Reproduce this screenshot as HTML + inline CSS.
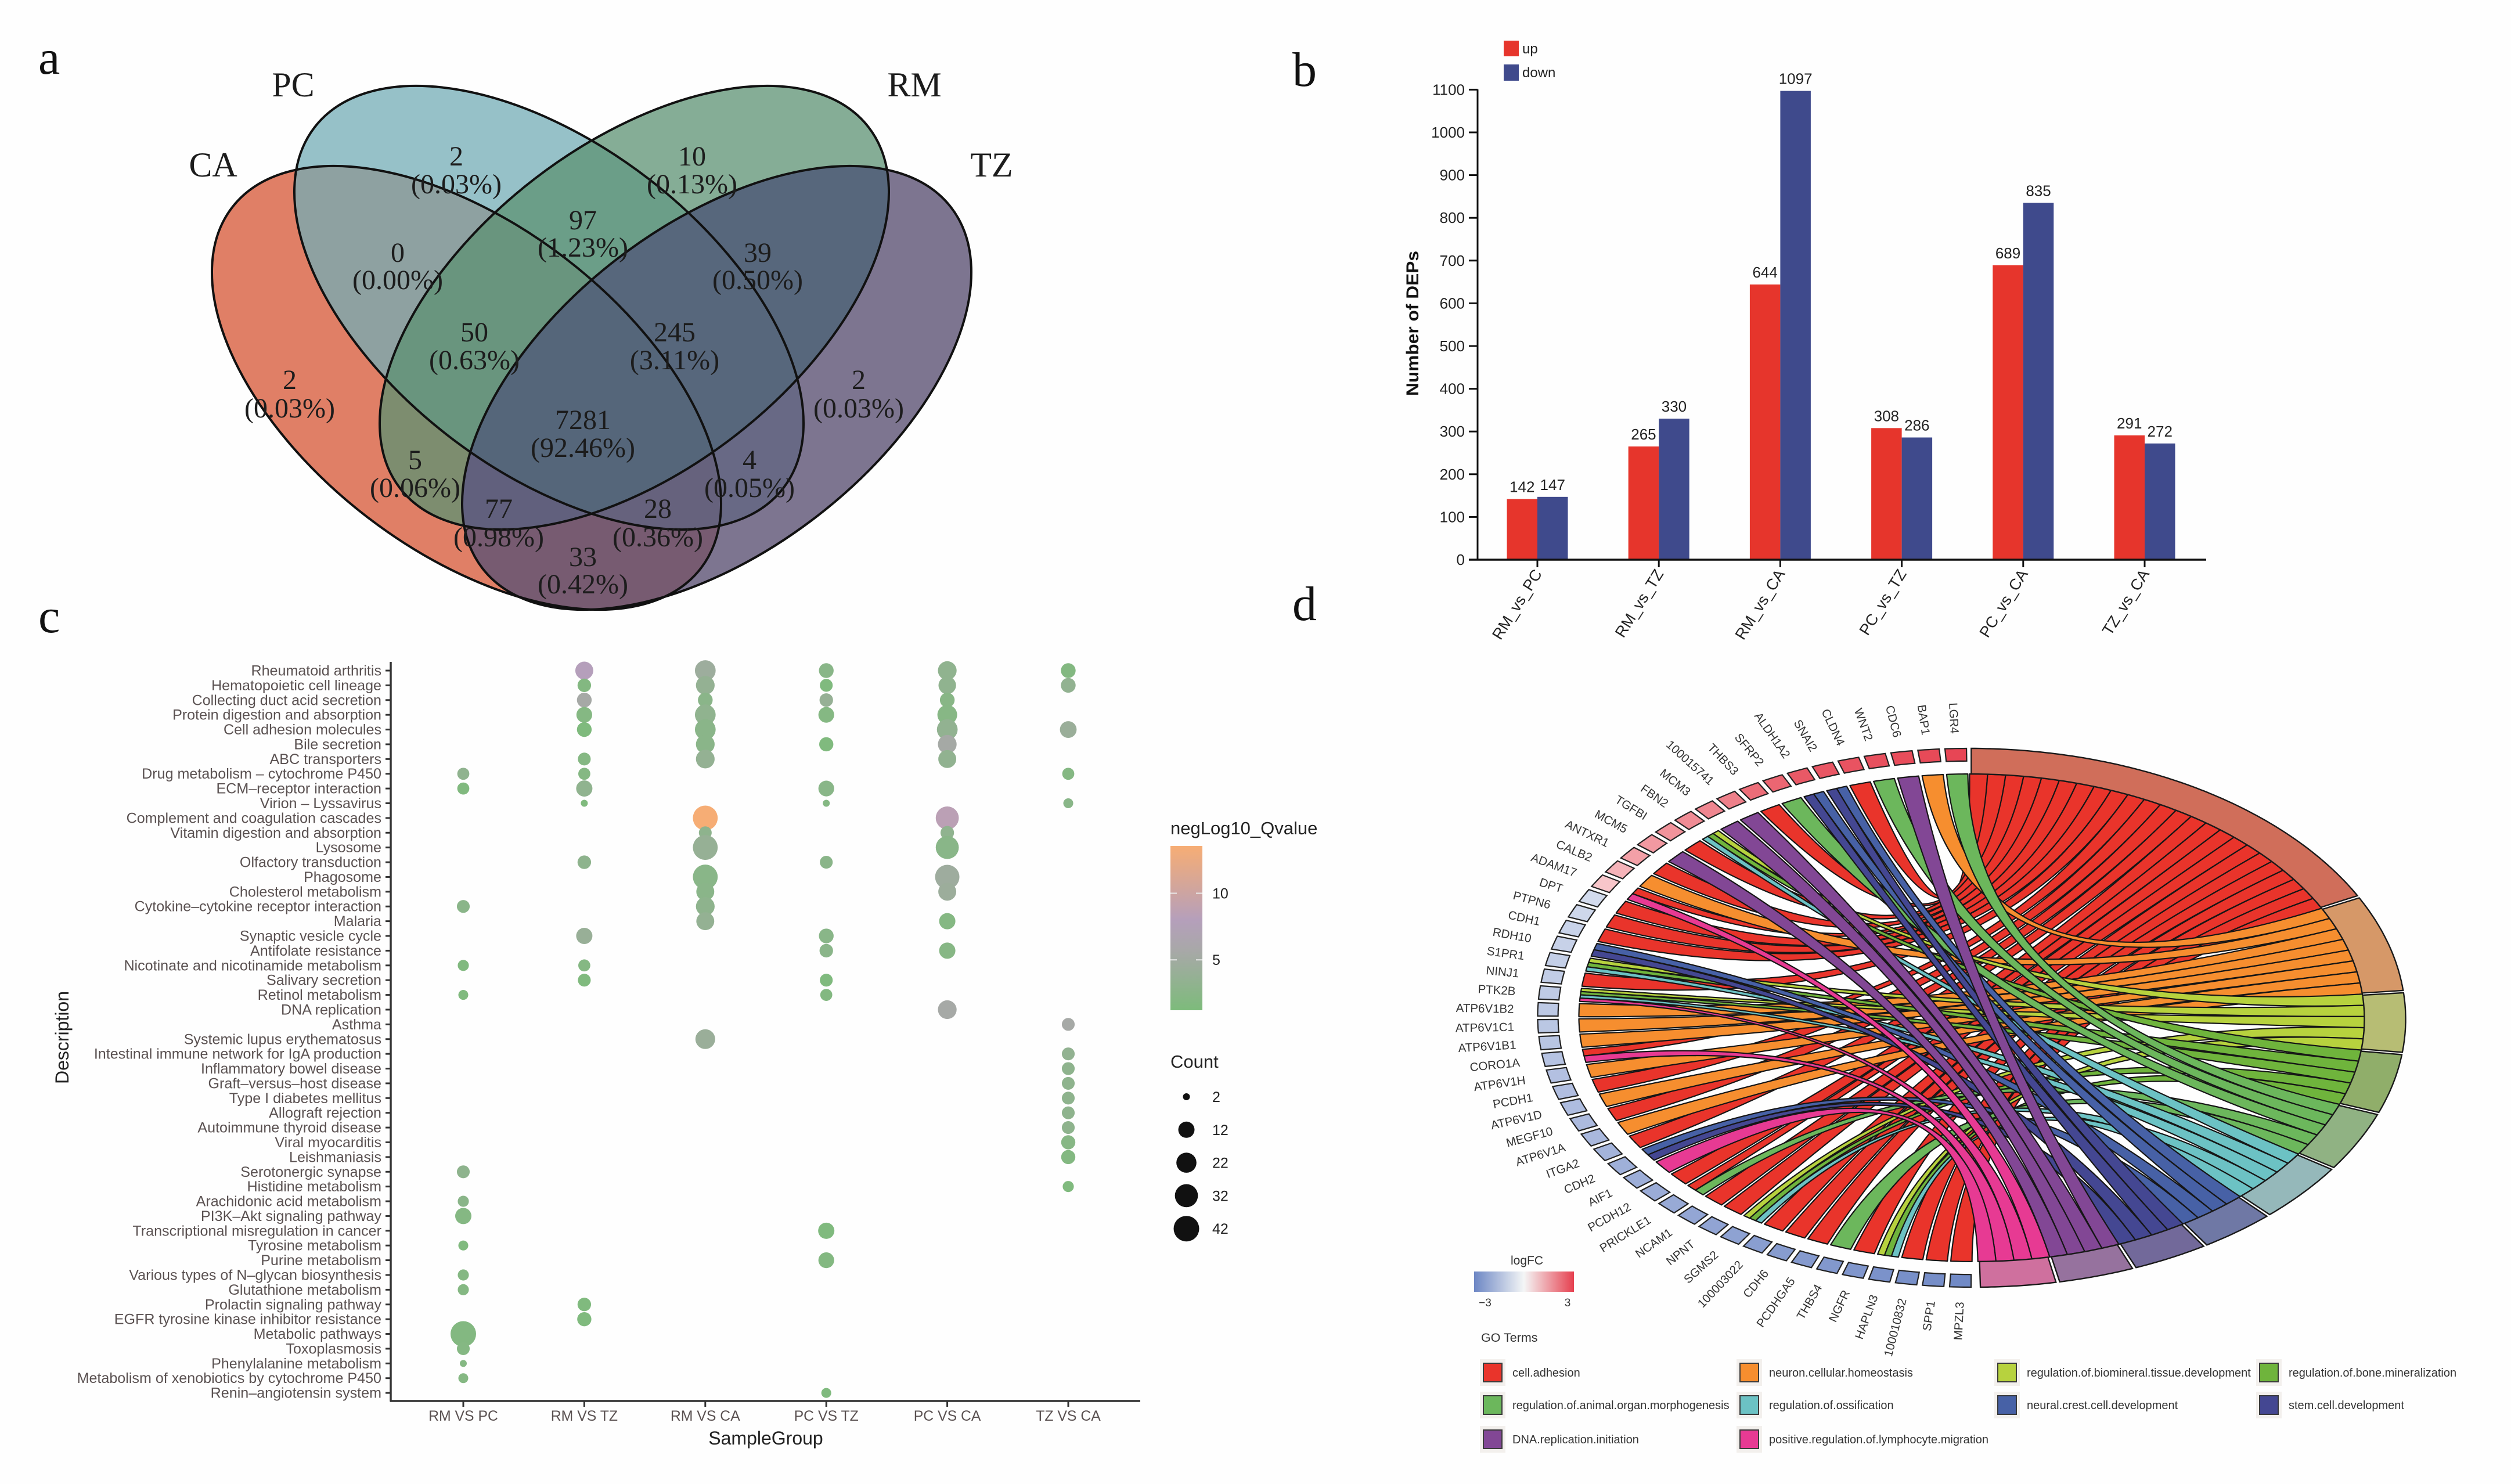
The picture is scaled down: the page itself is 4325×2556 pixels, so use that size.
<!DOCTYPE html>
<html lang="en">
<head>
<meta charset="utf-8">
<title>Proteomics four-panel figure</title>
<style>
html,body{margin:0;padding:0;background:#fff;}
svg{display:block;font-family:"Liberation Sans",Arial,sans-serif;}
.vn{font-size:48px;fill:#1c1c1c;text-anchor:middle;font-family:"Liberation Serif",serif;}
.vl{font-size:60px;fill:#1c1c1c;text-anchor:middle;font-family:"Liberation Serif",serif;}
.pl{font-size:84px;fill:#111;font-family:"Liberation Serif",serif;}
</style>
</head>
<body>
<svg id="figure" xmlns="http://www.w3.org/2000/svg" width="4325" height="2556" viewBox="0 0 4325 2556">
  <defs>
    <clipPath id="clipTZ"><ellipse cx="1234.5" cy="668" rx="509.4" ry="280.6" transform="rotate(-37.57 1234.5 668)"/></clipPath>
    <clipPath id="clipRM"><ellipse cx="1092.5" cy="530" rx="509.4" ry="280.6" transform="rotate(-37.57 1092.5 530)"/></clipPath>
    <clipPath id="clipCA"><ellipse cx="803.5" cy="668" rx="509.4" ry="280.6" transform="rotate(37.57 803.5 668)"/></clipPath>
    <clipPath id="clipPC"><ellipse cx="945.5" cy="530" rx="509.4" ry="280.6" transform="rotate(37.57 945.5 530)"/></clipPath>
  </defs>
  <rect width="4325" height="2556" fill="#fefefe"/>
  <text class="pl" x="66" y="127">a</text>
  <text class="pl" x="66" y="1089">c</text>
  <text class="pl" x="2226" y="148">b</text>
  <text class="pl" x="2226" y="1068">d</text>

  <g id="venn">
    <ellipse cx="803.5" cy="668" rx="509.4" ry="280.6" transform="rotate(37.57 803.5 668)" fill="#e07f66"/>
    <ellipse cx="945.5" cy="530" rx="509.4" ry="280.6" transform="rotate(37.57 945.5 530)" fill="rgb(115,172,182)" fill-opacity="0.75"/>
    <ellipse cx="1092.5" cy="530" rx="509.4" ry="280.6" transform="rotate(-37.57 1092.5 530)" fill="rgb(92,146,115)" fill-opacity="0.75"/>
    <ellipse cx="1234.5" cy="668" rx="509.4" ry="280.6" transform="rotate(-37.57 1234.5 668)" fill="rgb(92,82,116)" fill-opacity="0.8"/>
    <g clip-path="url(#clipTZ)">
      <g clip-path="url(#clipRM)">
        <rect x="300" y="100" width="1500" height="1000" fill="rgb(87,103,124)"/>
        <g clip-path="url(#clipCA)">
          <rect x="300" y="100" width="1500" height="1000" fill="rgb(97,96,125)"/>
          <g clip-path="url(#clipPC)">
            <rect x="300" y="100" width="1500" height="1000" fill="rgb(85,102,122)"/>
          </g>
        </g>
      </g>
    </g>
    <g fill="none" stroke="#111" stroke-width="4">
      <ellipse cx="803.5" cy="668" rx="509.4" ry="280.6" transform="rotate(37.57 803.5 668)"/>
      <ellipse cx="945.5" cy="530" rx="509.4" ry="280.6" transform="rotate(37.57 945.5 530)"/>
      <ellipse cx="1092.5" cy="530" rx="509.4" ry="280.6" transform="rotate(-37.57 1092.5 530)"/>
      <ellipse cx="1234.5" cy="668" rx="509.4" ry="280.6" transform="rotate(-37.57 1234.5 668)"/>
    </g>
    <text class="vl" x="505" y="166">PC</text>
    <text class="vl" x="1575" y="166">RM</text>
    <text class="vl" x="367" y="304">CA</text>
    <text class="vl" x="1708" y="304">TZ</text>
    <g>
      <text class="vn" x="786" y="285">2</text><text class="vn" x="786" y="333">(0.03%)</text>
      <text class="vn" x="1192" y="285">10</text><text class="vn" x="1192" y="333">(0.13%)</text>
      <text class="vn" x="1004" y="395">97</text><text class="vn" x="1004" y="442">(1.23%)</text>
      <text class="vn" x="685" y="451">0</text><text class="vn" x="685" y="498">(0.00%)</text>
      <text class="vn" x="1305" y="451">39</text><text class="vn" x="1305" y="498">(0.50%)</text>
      <text class="vn" x="817" y="588">50</text><text class="vn" x="817" y="636">(0.63%)</text>
      <text class="vn" x="1162" y="588">245</text><text class="vn" x="1162" y="636">(3.11%)</text>
      <text class="vn" x="499" y="670">2</text><text class="vn" x="499" y="719">(0.03%)</text>
      <text class="vn" x="1479" y="670">2</text><text class="vn" x="1479" y="719">(0.03%)</text>
      <text class="vn" x="1004" y="739">7281</text><text class="vn" x="1004" y="787">(92.46%)</text>
      <text class="vn" x="715" y="808">5</text><text class="vn" x="715" y="856">(0.06%)</text>
      <text class="vn" x="1291" y="808">4</text><text class="vn" x="1291" y="856">(0.05%)</text>
      <text class="vn" x="859" y="892">77</text><text class="vn" x="859" y="941">(0.98%)</text>
      <text class="vn" x="1133" y="892">28</text><text class="vn" x="1133" y="941">(0.36%)</text>
      <text class="vn" x="1004" y="975">33</text><text class="vn" x="1004" y="1022">(0.42%)</text>
    </g>
  </g>
  <g id="bars"></g>
  <g id="dots"></g>
  <g id="chord"></g>
</svg>

<script>
/* ---------- panel b data ---------- */
const comparisons = ["RM_vs_PC","RM_vs_TZ","RM_vs_CA","PC_vs_TZ","PC_vs_CA","TZ_vs_CA"];
const upCounts = [142,265,644,308,689,291];
const downCounts = [147,330,1097,286,835,272];
const yTickValues = [0,100,200,300,400,500,600,700,800,900,1000,1100];

/* ---------- panel c data ---------- */
const pathways = ["Rheumatoid arthritis","Hematopoietic cell lineage","Collecting duct acid secretion","Protein digestion and absorption","Cell adhesion molecules","Bile secretion","ABC transporters","Drug metabolism \u2013 cytochrome P450","ECM\u2013receptor interaction","Virion \u2013 Lyssavirus","Complement and coagulation cascades","Vitamin digestion and absorption","Lysosome","Olfactory transduction","Phagosome","Cholesterol metabolism","Cytokine\u2013cytokine receptor interaction","Malaria","Synaptic vesicle cycle","Antifolate resistance","Nicotinate and nicotinamide metabolism","Salivary secretion","Retinol metabolism","DNA replication","Asthma","Systemic lupus erythematosus","Intestinal immune network for IgA production","Inflammatory bowel disease","Graft\u2013versus\u2013host disease","Type I diabetes mellitus","Allograft rejection","Autoimmune thyroid disease","Viral myocarditis","Leishmaniasis","Serotonergic synapse","Histidine metabolism","Arachidonic acid metabolism","PI3K\u2013Akt signaling pathway","Transcriptional misregulation in cancer","Tyrosine metabolism","Purine metabolism","Various types of N\u2013glycan biosynthesis","Glutathione metabolism","Prolactin signaling pathway","EGFR tyrosine kinase inhibitor resistance","Metabolic pathways","Toxoplasmosis","Phenylalanine metabolism","Metabolism of xenobiotics by cytochrome P450","Renin\u2013angiotensin system"];
const sampleGroups = ["RM VS PC","RM VS TZ","RM VS CA","PC VS TZ","PC VS CA","TZ VS CA"];
/* each entry: [pathway number (1-based), Count, negLog10 Qvalue] */
const rmVsPcDots = [[8,5,3.2],[9,5,1.6],[17,6,2.6],[21,4,1.6],[23,3,1.5],[35,6,3],[37,4,2.6],[38,12,2],[40,3,1.5],[42,4,2],[43,4,2],[46,42,1.8],[47,6,2],[48,2,2],[49,3,2]];
const rmVsTzDots = [[1,16,8],[2,7,1.8],[3,9,5.5],[4,11,2],[5,9,1.4],[7,6,2],[8,5,2],[9,12,3.2],[10,2,1.5],[14,7,3],[19,12,4],[21,5,2],[22,6,1.5],[44,7,1.5],[45,8,1.5]];
const rmVsCaDots = [[1,24,4.6],[2,18,3.6],[3,9,2.6],[4,24,3.2],[5,24,2.6],[6,18,2.6],[7,18,3.6],[11,39,13.5],[12,6,3],[13,39,3.8],[15,39,2.5],[16,16,2.6],[17,18,3],[18,16,3.6],[26,21,4.2]];
const pcVsTzDots = [[1,9,2.5],[2,6,1.5],[3,7,3.8],[4,11,2],[6,8,1.5],[9,11,2.5],[10,2,2],[14,6,2.6],[19,9,2.5],[20,7,2.6],[22,6,1.5],[23,5,1.8],[39,12,1.5],[41,11,1.8],[50,3,1.5]];
const pcVsCaDots = [[1,18,3.2],[2,15,3.2],[3,9,2.3],[4,21,2.2],[5,24,3.4],[6,18,5.4],[7,16,3.3],[11,32,8.5],[12,7,3.2],[13,32,2.5],[15,37,4.7],[16,16,4.4],[18,12,2],[20,12,2.2],[24,18,5.5]];
const tzVsCaDots = [[1,9,1.8],[2,9,3.4],[5,13,4.2],[8,5,2],[10,3,2.5],[25,6,5.5],[27,6,3.4],[28,6,3],[29,6,3],[30,6,3],[31,6,3],[32,6,3],[33,8,2.2],[34,8,1.8],[36,4,1.5]];
const qLegendTicks = [5,10];
const countLegendValues = [2,12,22,32,42];

/* ---------- panel d data ---------- */
const genes = ["LGR4","BAP1","CDC6","WNT2","CLDN4","SNAI2","ALDH1A2","SFRP2","THBS3","100015741","MCM3","FBN2","TGFBI","MCM5","ANTXR1","CALB2","ADAM17","DPT","PTPN6","CDH1","RDH10","S1PR1","NINJ1","PTK2B","ATP6V1B2","ATP6V1C1","ATP6V1B1","CORO1A","ATP6V1H","PCDH1","ATP6V1D","MEGF10","ATP6V1A","ITGA2","CDH2","AIF1","PCDH12","PRICKLE1","NCAM1","NPNT","SGMS2","100003022","CDH6","PCDHGA5","THBS4","NGFR","HAPLN3","100010832","SPP1","MPZL3"];
const geneLogFC = [2.9,2.85,2.8,2.75,2.7,2.65,2.6,2.4,2.3,2.0,1.9,1.8,1.7,1.6,1.5,1.2,0.9,-0.9,-1.0,-1.1,-1.15,-1.2,-1.25,-1.3,-1.35,-1.4,-1.45,-1.5,-1.55,-1.6,-1.65,-1.7,-1.75,-1.85,-1.95,-2.0,-2.05,-2.1,-2.2,-2.25,-2.3,-2.4,-2.45,-2.5,-2.55,-2.6,-2.7,-2.75,-2.8,-2.9];
const goTerms = ["cell.adhesion","neuron.cellular.homeostasis","regulation.of.biomineral.tissue.development","regulation.of.bone.mineralization","regulation.of.animal.organ.morphogenesis","regulation.of.ossification","neural.crest.cell.development","stem.cell.development","DNA.replication.initiation","positive.regulation.of.lymphocyte.migration"];
const cellAdhesionGenes = ["CLDN4","THBS3","TGFBI","ANTXR1","ADAM17","DPT","PTPN6","CDH1","NINJ1","CORO1A","PCDH1","MEGF10","ITGA2","PCDH12","PRICKLE1","NCAM1","NPNT","100003022","CDH6","PCDHGA5","NGFR","100010832","SPP1","MPZL3"];
const neuronHomeostasisGenes = ["BAP1","CALB2","ATP6V1B2","ATP6V1C1","ATP6V1B1","ATP6V1H","ATP6V1D","ATP6V1A"];
const biomineralGenes = ["FBN2","S1PR1","PTK2B","SGMS2","HAPLN3"];
const boneMineralGenes = ["FBN2","S1PR1","PTK2B","SGMS2","HAPLN3"];
const organMorphGenes = ["LGR4","WNT2","SFRP2","PRICKLE1","THBS4"];
const ossificationGenes = ["FBN2","S1PR1","PTK2B","SGMS2","HAPLN3"];
const neuralCrestGenes = ["SNAI2","ALDH1A2","RDH10","CDH2"];
const stemCellGenes = ["SNAI2","ALDH1A2","RDH10","CDH2"];
const dnaReplicationGenes = ["CDC6","100015741","MCM3","MCM5"];
const lymphocyteGenes = ["ADAM17","PTK2B","CORO1A","AIF1"];

/* ---------- helpers ---------- */
const NS = "http://www.w3.org/2000/svg";
function mk(parent, tag, attrs, text) {
  const e = document.createElementNS(NS, tag);
  for (const k in attrs) e.setAttribute(k, attrs[k]);
  if (text !== undefined) e.textContent = text;
  parent.appendChild(e);
  return e;
}
function hexMix(a, b, t) {
  const pa = [1,3,5].map(i => parseInt(a.substr(i,2),16));
  const pb = [1,3,5].map(i => parseInt(b.substr(i,2),16));
  return "rgb(" + pa.map((v,i) => Math.round(v + (pb[i]-v)*t)).join(",") + ")";
}

/* ---------- panel b ---------- */
(function () {
  const g = document.getElementById("bars");
  const y0 = 964, perUnit = 0.736;
  const yScale = v => y0 - v * perUnit;
  const xCenter = i => 2648 + i * 209.2;
  const barW = 52.5;

  yTickValues.forEach(v => {
    const t = mk(g, "line", {x1:2530, x2:2545, y1:yScale(v), y2:yScale(v), stroke:"#111", "stroke-width":3});
    
    
    const l = mk(g, "text", {x:2523, y:yScale(v)+9, "text-anchor":"end", "font-size":26, fill:"#222"}, v);
    
    
  });

  comparisons.forEach((name, i) => {
    const cx = xCenter(i);
    const up = mk(g, "rect", {x:cx-barW, y:yScale(upCounts[i]), width:barW, height:y0-yScale(upCounts[i]), fill:"#e6352c"});
    
    
    const down = mk(g, "rect", {x:cx, y:yScale(downCounts[i]), width:barW, height:y0-yScale(downCounts[i]), fill:"#3f4a8c"});
    
    
    const ul = mk(g, "text", {x:cx-barW/2, y:yScale(upCounts[i])-12, "text-anchor":"middle", "font-size":26, fill:"#222"}, upCounts[i]);
    
    
    const dl = mk(g, "text", {x:cx+barW/2, y:yScale(downCounts[i])-12, "text-anchor":"middle", "font-size":26, fill:"#222"}, downCounts[i]);
    
    
    const t = mk(g, "line", {x1:cx, x2:cx, y1:y0, y2:977, stroke:"#111", "stroke-width":3});
    
    
    const lab = mk(g, "text", {transform:"translate("+(cx+9)+",988) rotate(-58)", "text-anchor":"end", "font-size":27, fill:"#222"}, name);
    
    
  });

  const ya = mk(g, "line", {x1:2545, x2:2545, y1:154, y2:965, stroke:"#111", "stroke-width":3});
  
  
  const xa = mk(g, "line", {x1:2530, x2:3800, y1:964, y2:964, stroke:"#111", "stroke-width":3.5});
  
  
  const yt = mk(g, "text", {transform:"translate(2443,557) rotate(-90)", "text-anchor":"middle", "font-size":30, "font-weight":"bold", fill:"#111", textLength:250, lengthAdjust:"spacingAndGlyphs"}, "Number of DEPs");
  
  

  const s1 = mk(g, "rect", {x:2590, y:70, width:26, height:27, fill:"#e6352c"});
  
  
  const t1 = mk(g, "text", {x:2622, y:92, "font-size":24, fill:"#222"}, "up");
  
  
  const s2 = mk(g, "rect", {x:2590, y:111, width:26, height:28, fill:"#3f4a8c"});
  
  
  const t2 = mk(g, "text", {x:2622, y:133, "font-size":24, fill:"#222"}, "down");
  
  
})();

/* ---------- panel c ---------- */
(function () {
  const g = document.getElementById("dots");
  const yRow = n => 1155 + (n - 1) * 25.39;
  const xGroup = i => 798 + i * 208.4;
  const rSize = c => 6 + 16 * Math.sqrt((c - 2) / 40);
  const stopV = [1.2, 5.7, 8, 13.5];
  const stopC = ["#7dbb7b", "#a8a8a8", "#b59fbb", "#f6ad75"];
  const qColor = v => {
    for (let i = 0; i < stopV.length - 1; i++) {
      if (v <= stopV[i+1]) return hexMix(stopC[i], stopC[i+1], Math.max(0,(v - stopV[i]) / (stopV[i+1] - stopV[i])));
    }
    return stopC[3];
  };

  pathways.forEach((name, i) => {
    const y = yRow(i + 1);
    const t = mk(g, "line", {x1:664, x2:673, y1:y, y2:y, stroke:"#333", "stroke-width":3});
    
    
    const l = mk(g, "text", {x:657, y:y+8.5, "text-anchor":"end", "font-size":25.1, fill:"#5a5151"}, name);
    
    
  });
  const ya = mk(g, "line", {x1:673, x2:673, y1:1140, y2:2414, stroke:"#333", "stroke-width":3.5});
  
  
  const xa = mk(g, "line", {x1:672, x2:1964, y1:2413, y2:2413, stroke:"#333", "stroke-width":3.5});
  
  

  sampleGroups.forEach((name, i) => {
    const x = xGroup(i);
    const t = mk(g, "line", {x1:x, x2:x, y1:2413, y2:2423, stroke:"#333", "stroke-width":3});
    
    
    const l = mk(g, "text", {x:x, y:2447, "text-anchor":"middle", "font-size":24.8, fill:"#5a5151"}, name);
    
    
  });

  [rmVsPcDots, rmVsTzDots, rmVsCaDots, pcVsTzDots, pcVsCaDots, tzVsCaDots].forEach((series, i) => {
    series.forEach(p => {
      const c = mk(g, "circle", {cx:xGroup(i), cy:yRow(p[0]), r:rSize(p[1]), fill:qColor(p[2])});
      
      
    });
  });

  const dt = mk(g, "text", {transform:"translate(118,1787) rotate(-90)", "text-anchor":"middle", "font-size":32, fill:"#222"}, "Description");
  
  
  const st = mk(g, "text", {x:1319, y:2488, "text-anchor":"middle", "font-size":32, fill:"#222"}, "SampleGroup");
  
  

  const qt = mk(g, "text", {x:2016, y:1437, "font-size":31, fill:"#222"}, "negLog10_Qvalue");
  
  
  const defs = mk(g, "defs", {});
  const grad = mk(defs, "linearGradient", {id:"qGrad", x1:0, x2:0, y1:1, y2:0});
  const qMin = 1.22, qMax = 13.55;
  stopV.forEach((v, i) => mk(grad, "stop", {offset:Math.min(1,Math.max(0,(v-qMin)/(qMax-qMin))), "stop-color":stopC[i]}));
  const barTop = 1457, barBottom = 1740;
  const qY = v => barBottom - (v - qMin) / (qMax - qMin) * (barBottom - barTop);
  const cb = mk(g, "rect", {x:2016, y:barTop, width:55, height:barBottom-barTop, fill:"url(#qGrad)"});
  
  
  qLegendTicks.forEach(v => {
    const a = mk(g, "line", {x1:2016, x2:2027, y1:qY(v), y2:qY(v), stroke:"#e8e8e8", "stroke-width":2});
    
    
    const b = mk(g, "line", {x1:2060, x2:2071, y1:qY(v), y2:qY(v), stroke:"#e8e8e8", "stroke-width":2});
    
    
    const l = mk(g, "text", {x:2088, y:qY(v)+9, "font-size":25, fill:"#222"}, v);
    
    
  });

  const ct = mk(g, "text", {x:2016, y:1839, "font-size":31, fill:"#222"}, "Count");
  
  
  countLegendValues.forEach((v, i) => {
    const y = 1889 + i * 56.8;
    const c = mk(g, "circle", {cx:2043.5, cy:y, r:rSize(v), fill:"#111"});
    
    
    const l = mk(g, "text", {x:2088, y:y+9, "font-size":25, fill:"#222"}, v);
    
    
  });
})();

/* ---------- panel d ---------- */
(function () {
  const g = document.getElementById("chord");
  const cx = 3396, cy = 1753, rx = 747.5, ry = 464, shear = 0.0086;
  const D = Math.PI / 180;
  const L = (t, r) => {
    const y = cy - ry * r * Math.cos(t * D);
    return [cx - rx * r * Math.sin(t * D) + shear * (y - cy), y];
  };
  const R = (t, r) => {
    const y = cy - ry * r * Math.cos(t * D);
    return [cx + rx * r * Math.sin(t * D) + shear * (y - cy), y];
  };
  const arc = (f, a, b, r) => {
    const n = Math.max(2, Math.ceil(Math.abs(b - a) / 0.5));
    const pts = [];
    for (let i = 0; i <= n; i++) pts.push(f(a + (b - a) * i / n, r));
    return pts;
  };
  const P = p => p[0].toFixed(1) + " " + p[1].toFixed(1);
  const lines = pts => pts.map(p => "L" + P(p)).join("");
  const termLists = [cellAdhesionGenes, neuronHomeostasisGenes, biomineralGenes, boneMineralGenes, organMorphGenes, ossificationGenes, neuralCrestGenes, stemCellGenes, dnaReplicationGenes, lymphocyteGenes];
  const chordColors = ["#e9342b","#f68e2f","#b7d23e","#6fb43c","#6cb75c","#6cc2c4","#4761a6","#444792","#824795","#e73a93"];
  const ringColors = ["#d06e5a","#d69868","#b7bd74","#90ae6a","#90b283","#95b8ba","#6f78a5","#72699a","#96729e","#cf709e"];
  const rIn = 0.905;
  const geneStep = 180 / genes.length;
  const total = termLists.reduce((s, l) => s + l.length, 0);
  const termStep = 179.4 / total;

  /* how many links each gene has, for splitting its wedge */
  const linkCount = genes.map(n => termLists.filter(l => l.includes(n)).length);
  const linkUsed = genes.map(() => 0);

  /* ribbons */
  let cursor = 0;
  const termSpans = [];
  termLists.forEach((list, ti) => {
    const start = cursor;
    const ordered = list.slice().sort((a, b) => genes.indexOf(a) - genes.indexOf(b));
    ordered.forEach((name, k) => {
      const gi = genes.indexOf(name);
      const wedgeA = gi * geneStep + 0.25, wedgeB = (gi + 1) * geneStep - 0.25;
      const w = (wedgeB - wedgeA) / Math.max(1, linkCount[gi]);
      const ga = wedgeA + w * linkUsed[gi];
      const gb = ga + w;
      linkUsed[gi]++;
      const ta = start + k * termStep, tb = ta + termStep;
      const d = "M" + P(L(ga, rIn)) + lines(arc(L, ga, gb, rIn)) +
        "Q" + cx + " " + cy + " " + P(R(tb, rIn)) + lines(arc(R, tb, ta, rIn)) +
        "Q" + cx + " " + cy + " " + P(L(ga, rIn)) + "Z";
      const ribbon = mk(g, "path", {d:d, fill:chordColors[ti], stroke:"#161616", "stroke-width":2.2, "stroke-linejoin":"round"});
      
      
    });
    cursor += list.length * termStep;
    termSpans.push([start, cursor]);
  });

  /* term ring */
  termSpans.forEach((s, ti) => {
    const a = s[0] + 0.25, b = s[1] - 0.25;
    const o = arc(R, a, b, 1), i = arc(R, b, a, rIn);
    const d = "M" + P(o[0]) + lines(o) + lines(i) + "Z";
    const seg = mk(g, "path", {d:d, fill:ringColors[ti], stroke:"#1a1a1a", "stroke-width":2.4});
    
    
  });

  /* gene ring and labels */
  const fcColor = v => v >= 0 ? hexMix("#ffffff", "#e6404f", Math.min(1, v / 3)) : hexMix("#ffffff", "#6c86c4", Math.min(1, -v / 3));
  genes.forEach((name, i) => {
    const a = i * geneStep + 0.38, b = (i + 1) * geneStep - 0.38;
    const o = arc(L, a, b, 1), n = arc(L, b, a, 0.953);
    const d = "M" + P(o[0]) + lines(o) + lines(n) + "Z";
    const box = mk(g, "path", {d:d, fill:fcColor(geneLogFC[i]), stroke:"#222", "stroke-width":2.2});
    
    
    const t = (i + 0.5) * geneStep;
    const p = L(t, 1.055);
    const phi = Math.atan2(ry * Math.cos(t * D), rx * Math.sin(t * D)) / D;
    const lab = mk(g, "text", {transform:"translate(" + p[0].toFixed(1) + "," + p[1].toFixed(1) + ") rotate(" + phi.toFixed(2) + ")", "text-anchor":"end", dy:"0.35em", "font-size":20.5, fill:"#333"}, name);
    
    
  });

  /* logFC legend */
  const defs = mk(g, "defs", {});
  const grad = mk(defs, "linearGradient", {id:"fcGrad", x1:0, x2:1, y1:0, y2:0});
  mk(grad, "stop", {offset:0, "stop-color":"#6c86c4"});
  mk(grad, "stop", {offset:0.5, "stop-color":"#f4f6f6"});
  mk(grad, "stop", {offset:1, "stop-color":"#e6404f"});
  const ft = mk(g, "text", {x:2630, y:2178, "text-anchor":"middle", "font-size":21, fill:"#333"}, "logFC");
  
  
  const fb = mk(g, "rect", {x:2539, y:2190, width:172, height:35, fill:"url(#fcGrad)"});
  
  
  const fmin = mk(g, "text", {x:2558, y:2250, "text-anchor":"middle", "font-size":19, fill:"#333"}, "\u22123");
  
  
  const fmax = mk(g, "text", {x:2700, y:2250, "text-anchor":"middle", "font-size":19, fill:"#333"}, "3");
  
  

  /* GO terms legend */
  const gt = mk(g, "text", {x:2551, y:2311, "font-size":21.5, fill:"#333"}, "GO Terms");
  
  
  const colX = [2555, 2997, 3441, 3892];
  const rowY = [2364, 2420, 2479];
  goTerms.forEach((name, i) => {
    const x = colX[i % 4], y = rowY[Math.floor(i / 4)];
    const key = mk(g, "rect", {x:x-6, y:y-23, width:44, height:46, fill:"#f3f0ed"});
    
    
    const sw = mk(g, "rect", {x:x, y:y-16, width:32, height:32, fill:chordColors[i], stroke:"#3a3a3a", "stroke-width":2});
    
    
    const lab = mk(g, "text", {x:x+50, y:y+7, "font-size":20, fill:"#333"}, name);
    
    
  });
})();
</script>
</body>
</html>
